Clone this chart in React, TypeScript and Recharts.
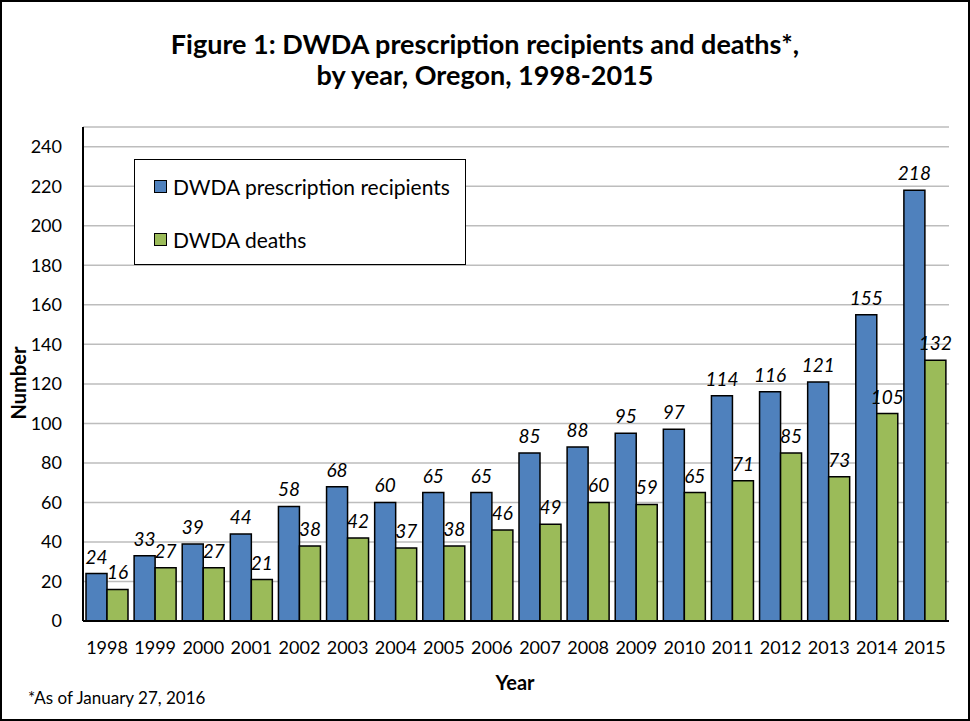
import React from "react";
import { BarChart, Bar, XAxis, YAxis, CartesianGrid, LabelList } from "recharts";

const years = ["1998","1999","2000","2001","2002","2003","2004","2005","2006","2007","2008","2009","2010","2011","2012","2013","2014","2015"];
const recipients = [24,33,39,44,58,68,60,65,65,85,88,95,97,114,116,121,155,218];
const deaths = [16,27,27,21,38,42,37,38,46,49,60,59,65,71,85,73,105,132];
const yTicks = [0,20,40,60,80,100,120,140,160,180,200,220,240];

const data = years.map((y, i) => ({ year: y, recipients: recipients[i], deaths: deaths[i] }));

const FONT = "Lato, 'Open Sans', sans-serif";
const BLUE = "#4F81BD";
const GREEN = "#9BBB59";

const labelStyle = { fill: "#000", fontSize: 19, fontStyle: "italic", fontFamily: FONT };

export default function App() {
  return (
    <div style={{ position: "absolute", left: 0, top: 0, width: 970, height: 721, background: "#fff", fontFamily: FONT, overflow: "hidden" }}>
      <div style={{ position: "absolute", left: 0, top: 0, width: 966, height: 717, border: "2px solid #000" }} />
      <div style={{ position: "absolute", left: 0, top: 28, width: 970, textAlign: "center", fontWeight: 700, fontSize: 27, lineHeight: "31px", color: "#000" }}>
        Figure 1: DWDA prescription recipients and deaths*,<br />by year, Oregon, 1998-2015
      </div>
      <BarChart
        width={970}
        height={721}
        data={data}
        margin={{ top: 127, right: 21, bottom: 60, left: 0 }}
        barCategoryGap={3}
        barGap={0}
        style={{ position: "absolute", left: 0, top: 0 }}
      >
        <CartesianGrid horizontal vertical={false} stroke="#BDBDBD" strokeWidth={1.5} />
        <XAxis
          dataKey="year"
          height={40}
          tickLine={false}
          axisLine={{ stroke: "#000", strokeWidth: 2 }}
          tickMargin={14}
          tick={{ fill: "#000", fontSize: 18, fontFamily: FONT }}
          interval={0}
        />
        <XAxis xAxisId="top" orientation="top" dataKey="year" height={0} tick={false} tickLine={false} axisLine={{ stroke: "#000", strokeWidth: 2 }} />
        <YAxis
          width={83}
          domain={[0, 250]}
          ticks={yTicks}
          interval={0}
          tickLine={false}
          axisLine={{ stroke: "#000", strokeWidth: 2 }}
          tickMargin={15}
          tick={{ fill: "#000", fontSize: 18, fontFamily: FONT }}
        />
        <YAxis yAxisId="right" orientation="right" width={0} domain={[0, 250]} tick={false} tickLine={false} axisLine={{ stroke: "#000", strokeWidth: 2 }} />
        <Bar dataKey="recipients" fill={BLUE} stroke="#000" strokeWidth={1.5} isAnimationActive={false}>
          <LabelList dataKey="recipients" position="top" offset={10} style={labelStyle} />
        </Bar>
        <Bar dataKey="deaths" fill={GREEN} stroke="#000" strokeWidth={1.5} isAnimationActive={false}>
          <LabelList dataKey="deaths" position="top" offset={10} style={labelStyle} />
        </Bar>
      </BarChart>
      <div style={{ position: "absolute", left: 134, top: 159, width: 330, height: 104, border: "1.5px solid #000", background: "#fff", fontSize: 21, color: "#000" }}>
        <div style={{ position: "absolute", left: 19, top: 14, display: "flex", alignItems: "center", whiteSpace: "nowrap" }}>
          <span style={{ display: "inline-block", width: 11, height: 11, background: BLUE, border: "1px solid #000", marginRight: 6 }} />
          DWDA prescription recipients
        </div>
        <div style={{ position: "absolute", left: 19, top: 67, display: "flex", alignItems: "center", whiteSpace: "nowrap" }}>
          <span style={{ display: "inline-block", width: 11, height: 11, background: GREEN, border: "1px solid #000", marginRight: 6 }} />
          DWDA deaths
        </div>
      </div>
      <div style={{ position: "absolute", left: 18, top: 383, transform: "translate(-50%, -50%) rotate(-90deg)", fontWeight: 700, fontSize: 20, whiteSpace: "nowrap" }}>
        Number
      </div>
      <div style={{ position: "absolute", left: 515, top: 682, transform: "translate(-50%, -50%)", fontWeight: 700, fontSize: 20 }}>
        Year
      </div>
      <div style={{ position: "absolute", left: 28, top: 687, fontSize: 17 }}>
        *As of January 27, 2016
      </div>
    </div>
  );
}
